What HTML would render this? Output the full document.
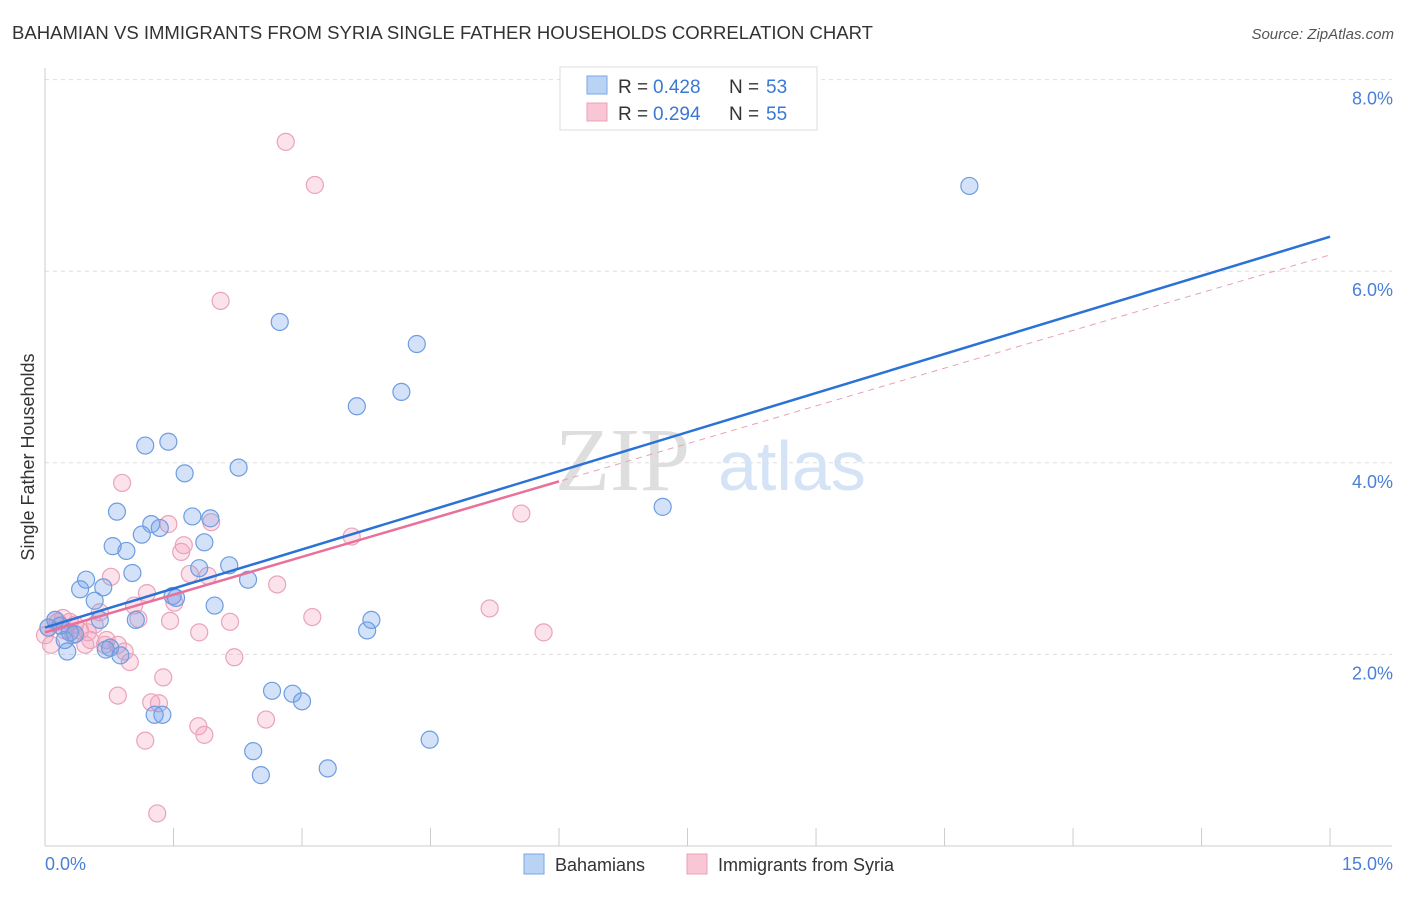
<!DOCTYPE html>
<html><head><meta charset="utf-8"><style>
body{margin:0;background:#fff;font-family:"Liberation Sans",sans-serif;}
</style></head><body>
<svg width="1406" height="892" viewBox="0 0 1406 892" xmlns="http://www.w3.org/2000/svg" style="font-family:'Liberation Sans',sans-serif">
<text x="12" y="39" font-size="18" fill="#333" textLength="861" lengthAdjust="spacingAndGlyphs">BAHAMIAN VS IMMIGRANTS FROM SYRIA SINGLE FATHER HOUSEHOLDS CORRELATION CHART</text>
<text x="1394" y="39" font-size="15" fill="#555" text-anchor="end" font-style="italic">Source: ZipAtlas.com</text>
<g id="grid"></g>
<g><text x="555" y="490" font-size="90" fill="#dedede" font-family="Liberation Serif,serif">ZIP</text><text x="718" y="490" font-size="70" fill="#d4e3f5">atlas</text></g>
<line x1="45" y1="68" x2="45" y2="846" stroke="#ccc"/>
<line x1="45" y1="846" x2="1392" y2="846" stroke="#ccc"/>
<g id="xticks"></g>
<text x="45" y="870" font-size="18" fill="#4a7fd6">0.0%</text>
<text x="1393" y="870" font-size="18" fill="#4a7fd6" text-anchor="end">15.0%</text>
<text transform="translate(34,457) rotate(-90)" font-size="18" fill="#333" text-anchor="middle">Single Father Households</text>
<g id="pts"></g>
<g id="lines"></g>
<g>
<rect x="560" y="67" width="257" height="63" fill="#fff" stroke="#ddd"/>
<rect x="587" y="76" width="20" height="18" fill="#b9d3f5" stroke="#7aa6e6"/>
<rect x="587" y="103" width="20" height="18" fill="#f9c6d6" stroke="#eca0b9"/>
<text x="618" y="93" font-size="19" fill="#333">R =</text>
<text x="653" y="93" font-size="19" fill="#3a78d4">0.428</text>
<text x="729" y="93" font-size="19" fill="#333">N =</text>
<text x="766" y="93" font-size="19" fill="#3a78d4">53</text>
<text x="618" y="120" font-size="19" fill="#333">R =</text>
<text x="653" y="120" font-size="19" fill="#3a78d4">0.294</text>
<text x="729" y="120" font-size="19" fill="#333">N =</text>
<text x="766" y="120" font-size="19" fill="#3a78d4">55</text>
</g>
<g>
<rect x="524" y="854" width="20" height="20" fill="#b9d3f5" stroke="#7aa6e6"/>
<text x="555" y="871" font-size="18" fill="#333">Bahamians</text>
<rect x="687" y="854" width="20" height="20" fill="#f9c6d6" stroke="#eca0b9"/>
<text x="718" y="871" font-size="18" fill="#333">Immigrants from Syria</text>
</g>
</svg>
<script>
const yTicks=[2,4,6,8];
const yTickLabels=["2.0%","4.0%","6.0%","8.0%"];
const xTicks=[1.5,3,4.5,6,7.5,9,10.5,12,13.5,15];
const blueX=[10.79,2.74,4.34,3.64,4.16,1.44,1.17,1.63,2.26,7.21,0.84,1.72,1.93,1.24,1.34,1.13,1.86,0.79,0.95,2.15,1.80,1.02,0.48,0.41,0.68,2.37,1.49,1.53,0.58,1.98,3.81,3.76,1.06,0.64,0.12,0.18,0.29,0.35,0.23,0.04,0.76,0.71,0.88,0.26,2.65,2.89,3.00,1.28,1.37,4.49,2.43,2.52,3.30];
const blueY=[6.89,5.47,5.24,4.59,4.74,4.22,4.18,3.89,3.95,3.54,3.49,3.44,3.42,3.36,3.32,3.25,3.17,3.13,3.08,2.93,2.90,2.85,2.78,2.68,2.70,2.78,2.61,2.59,2.56,2.51,2.36,2.25,2.36,2.36,2.36,2.30,2.23,2.21,2.15,2.28,2.07,2.05,1.99,2.03,1.62,1.59,1.51,1.37,1.37,1.11,0.99,0.74,0.81];
const pinkX=[2.81,3.15,2.05,0.90,5.56,3.58,1.44,1.94,1.62,1.59,0.77,1.69,1.90,2.71,1.19,1.51,1.04,0.64,5.19,3.12,1.09,1.46,2.16,1.80,5.82,0.12,0.04,0.15,0.29,0.41,0.53,0.47,0.72,0.85,0.93,0.70,0.07,2.21,0.99,1.38,0.85,1.24,1.33,2.58,1.79,1.86,1.17,1.31,0.35,0.23,0.58,0.21,0.50,0.33,0.00];
const pinkY=[7.35,6.90,5.69,3.79,3.47,3.23,3.36,3.38,3.14,3.07,2.81,2.84,2.82,2.73,2.64,2.54,2.51,2.44,2.48,2.39,2.37,2.35,2.34,2.23,2.23,2.36,2.28,2.34,2.34,2.25,2.15,2.10,2.15,2.10,2.03,2.10,2.10,1.97,1.92,1.76,1.57,1.50,1.49,1.32,1.25,1.16,1.10,0.34,2.31,2.25,2.31,2.38,2.23,2.20,2.20];
const blueLine=[2.28,6.36];
const pinkLine=[2.23,6.17];
const pinkSolidEnd=6;
const NS="http://www.w3.org/2000/svg";
const sx=v=>45+v*85.67, sy=v=>846-v*95.8;
function mk(tag,attrs,parent){const e=document.createElementNS(NS,tag);for(const k in attrs)e.setAttribute(k,attrs[k]);parent.appendChild(e);return e;}
const grid=document.getElementById('grid');
yTicks.forEach((t,i)=>{
 const l=mk('line',{x1:45,x2:1392,y1:sy(t),y2:sy(t),stroke:'#ddd','stroke-dasharray':'4,4'},grid);
 
 
 const tx=mk('text',{x:1393,y:sy(t)+25,'font-size':18,fill:'#4a7fd6','text-anchor':'end'},grid);
 tx.textContent=yTickLabels[i];
 
 
});
const xt=document.getElementById('xticks');
xTicks.forEach(t=>{
 const l=mk('line',{x1:sx(t),x2:sx(t),y1:828,y2:846,stroke:'#ccc'},xt);
 
 
});
const pts=document.getElementById('pts');
function dots(X,Y,fill,stroke,name){X.forEach((x,i)=>{
 const c=mk('circle',{cx:sx(x),cy:sy(Y[i]),r:8.5,fill:fill,stroke:stroke,'stroke-width':1.2},pts);
 
 
});}
dots(pinkX,pinkY,'rgba(244,160,188,0.3)','#e9a3bb','syria-point');
dots(blueX,blueY,'rgba(110,160,235,0.3)','#6e9de0','bahamian-point');
const lines=document.getElementById('lines');
const pd=mk('line',{x1:sx(0),y1:sy(pinkLine[0]),x2:sx(15),y2:sy(pinkLine[1]),stroke:'#e8a0b8','stroke-width':1,'stroke-dasharray':'6,5'},lines);


const pe=pinkLine[0]+(pinkLine[1]-pinkLine[0])*pinkSolidEnd/15;
const ps=mk('line',{x1:sx(0),y1:sy(pinkLine[0]),x2:sx(pinkSolidEnd),y2:sy(pe),stroke:'#e8709a','stroke-width':2.5},lines);


const bl=mk('line',{x1:sx(0),y1:sy(blueLine[0]),x2:sx(15),y2:sy(blueLine[1]),stroke:'#2b72d6','stroke-width':2.5},lines);


</script>
</body></html>
